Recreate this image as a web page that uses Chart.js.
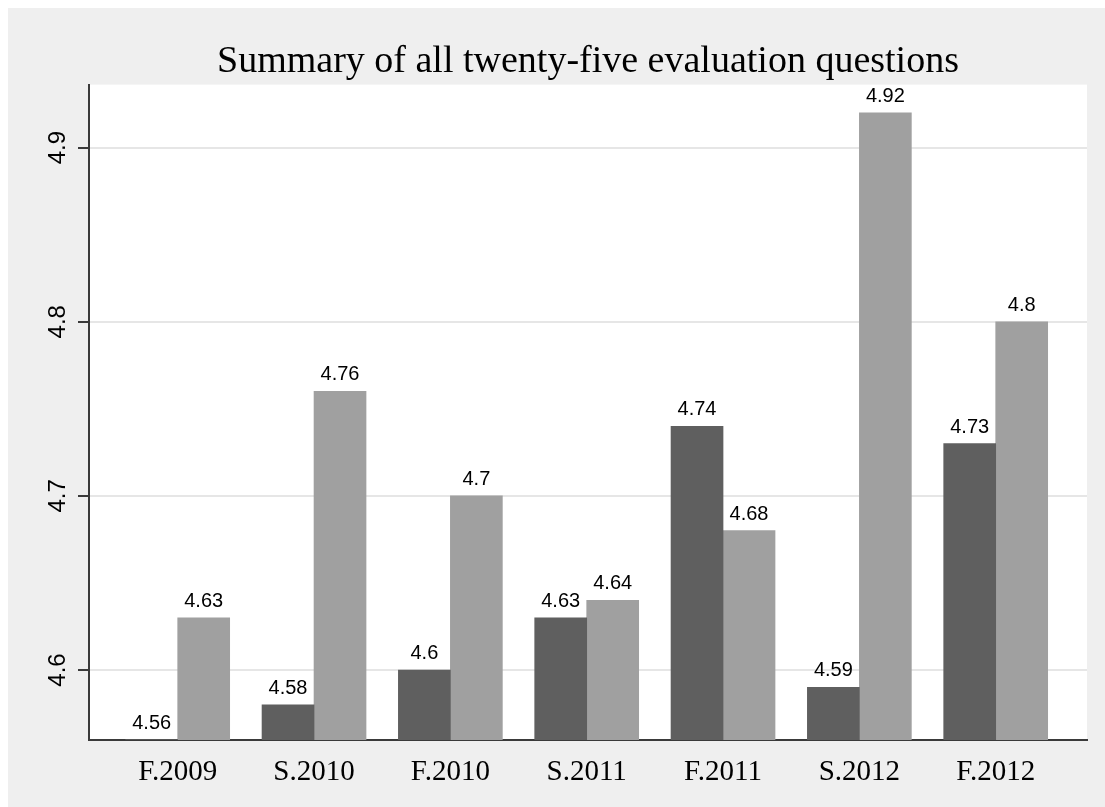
<!DOCTYPE html>
<html>
<head>
<meta charset="utf-8">
<script src="https://cdn.jsdelivr.net/npm/chart.js@4"></script>
<style>
  html, body { margin: 0; padding: 0; background: #fff; }
  #wrap { position: absolute; left: 8px; top: 8px; width: 1097px; height: 799px; background: #efefef; }
</style>
</head>
<body>
<div id="wrap"><canvas id="myChart" width="1097" height="799"></canvas></div>
<script>
// terms and the two bar series (dark / light)
const terms = ['F.2009', 'S.2010', 'F.2010', 'S.2011', 'F.2011', 'S.2012', 'F.2012'];
const darkVals = [4.56, 4.58, 4.6, 4.63, 4.74, 4.59, 4.73];
const lightVals = [4.63, 4.76, 4.7, 4.64, 4.68, 4.92, 4.8];
const yTicks = [4.6, 4.7, 4.8, 4.9];

const toPoints = (vals) => vals.map((v, i) => ({ x: i, y: v }));

// white plot area on the grey page
const plotBg = {
  id: 'plotBg',
  beforeDraw(chart) {
    const { ctx, chartArea: a } = chart;
    ctx.save();
    ctx.fillStyle = '#fff';
    ctx.fillRect(a.left, a.top, a.right - a.left, a.bottom - a.top);
    ctx.restore();
  }
};

// value labels above each bar
const barLabels = {
  id: 'barLabels',
  afterDatasetsDraw(chart) {
    const ctx = chart.ctx;
    ctx.save();
    ctx.font = '20px "Liberation Sans", Arial, sans-serif';
    ctx.fillStyle = '#000';
    ctx.textAlign = 'center';
    ctx.textBaseline = 'alphabetic';
    chart.data.datasets.forEach((ds, di) => {
      chart.getDatasetMeta(di).data.forEach((bar, i) => {
        ctx.fillText(String(ds.data[i].y), bar.x, bar.y - 11);
      });
    });
    ctx.restore();
  }
};

new Chart(document.getElementById('myChart'), {
  type: 'bar',
  data: {
    datasets: [
      { label: 'dark', data: toPoints(darkVals), backgroundColor: '#5f5f5f', borderWidth: 0, barThickness: 52 },
      { label: 'light', data: toPoints(lightVals), backgroundColor: '#a0a0a0', borderWidth: 0, barThickness: 52 }
    ]
  },
  options: {
    responsive: false,
    animation: false,
    layout: { padding: { left: 0, right: 18, top: 0, bottom: 0 } },
    plugins: {
      legend: { display: false },
      tooltip: { enabled: false },
      title: {
        display: true,
        fullSize: false,
        text: 'Summary of all twenty-five evaluation questions',
        color: '#000',
        font: { family: '"Liberation Serif", "Times New Roman", serif', size: 38, weight: 'normal' },
        padding: { top: 31, bottom: 0 }
      }
    },
    scales: {
      x: {
        type: 'linear',
        offset: false,
        min: -0.6506,
        max: 6.6697,
        grid: { display: false },
        border: { display: true, color: '#3a3a3a', width: 2 },
        afterBuildTicks: (s) => { s.ticks = terms.map((t, i) => ({ value: i })); },
        afterFit: (s) => { s.height = 67; },
        ticks: {
          autoSkip: false,
          maxRotation: 0,
          padding: 7,
          color: '#000',
          font: { family: '"Liberation Serif", "Times New Roman", serif', size: 29 },
          callback: (v) => terms[v]
        }
      },
      y: {
        min: 4.5598,
        max: 4.9362,
        grid: { color: '#e6e6e6', lineWidth: 2, tickColor: '#3a3a3a', tickWidth: 2, tickLength: 11 },
        border: { display: true, color: '#3a3a3a', width: 2 },
        afterBuildTicks: (s) => { s.ticks = yTicks.map(v => ({ value: v })); },
        afterFit: (s) => { s.width = 81; },
        ticks: {
          minRotation: 90,
          maxRotation: 90,
          crossAlign: 'center',
          padding: 3,
          color: '#000',
          font: { family: '"Liberation Sans", Arial, sans-serif', size: 24 },
          callback: (v) => String(v)
        }
      }
    }
  },
  plugins: [plotBg, barLabels]
});
</script>
</body>
</html>
